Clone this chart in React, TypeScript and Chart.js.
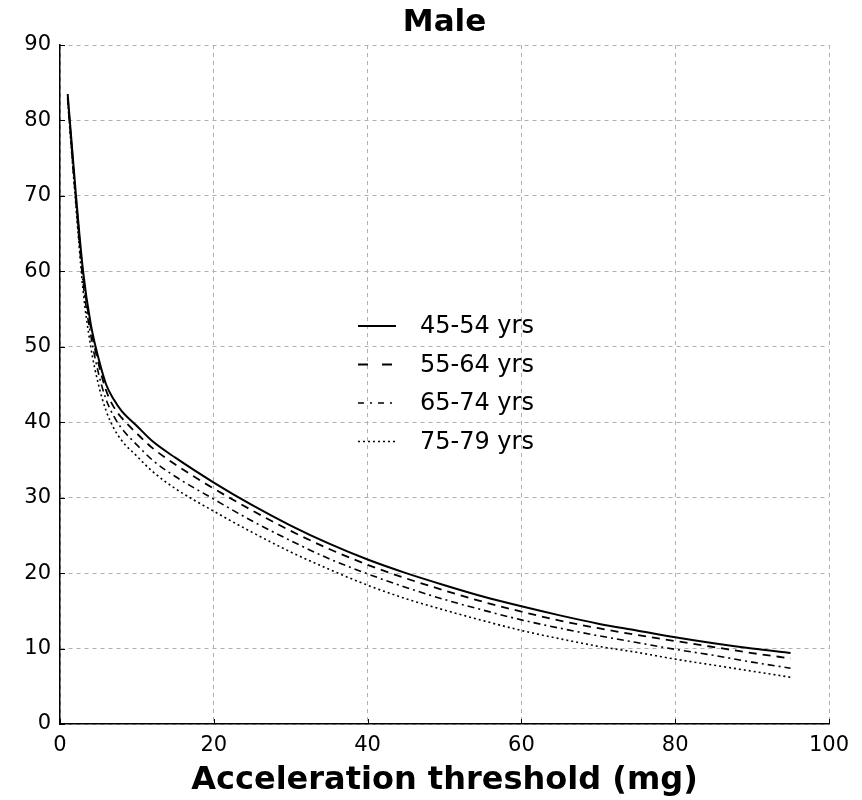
import React, { useEffect, useRef } from "react";
import { Chart, registerables } from "chart.js";

Chart.register(...registerables);

const thresholds = [1, 2, 3, 4, 5, 6, 7, 8, 10, 12, 15, 20, 25, 30, 35, 40, 45, 50, 55, 60, 65, 70, 75, 80, 85, 90, 95];
const age45_54 = [83.5, 71, 60, 53, 48.5, 45, 43, 41.5, 39.5, 37.5, 35.3, 32, 29, 26.3, 23.9, 21.8, 20, 18.4, 16.9, 15.6, 14.4, 13.3, 12.4, 11.5, 10.7, 10, 9.4];
const age55_64 = [83, 70.5, 59.5, 52.5, 47.8, 44.2, 42, 40.6, 38.5, 36.6, 34.4, 31.2, 28.3, 25.6, 23.2, 21.1, 19.3, 17.7, 16.2, 14.9, 13.7, 12.7, 11.8, 11.0, 10.2, 9.4, 8.7];
const age65_74 = [83, 70, 58.5, 51.5, 46.5, 43, 40.8, 39.2, 37, 35, 32.8, 29.8, 26.9, 24.3, 21.9, 19.9, 18.1, 16.5, 15.1, 13.8, 12.7, 11.7, 10.8, 9.9, 9.1, 8.2, 7.4];
const age75_79 = [82.5, 69.5, 57.5, 50, 45, 41.5, 39.2, 37.6, 35.5, 33.5, 31.2, 28.2, 25.4, 22.8, 20.5, 18.4, 16.6, 15.1, 13.7, 12.4, 11.3, 10.3, 9.5, 8.6, 7.8, 7, 6.2];
const seriesLabels = ["45-54 yrs", "55-64 yrs", "65-74 yrs", "75-79 yrs"];
const chartTitle = "Male";
const xTitle = "Acceleration threshold (mg)";

const dashes: number[][] = [[], [8, 6], [7, 4, 2, 4], [2, 3]];
const legendDashes: number[][] = [[], [10, 14], [6, 6, 2, 6], [2, 3]];
const widths = [2, 1.8, 1.6, 1.6];

const FONT = "'DejaVu Sans', sans-serif";

const overlayPlugin = {
  id: "overlay",
  afterDraw(chart: any) {
    const ctx = chart.ctx;
    const a = chart.chartArea;
    ctx.save();
    ctx.fillStyle = "#000";
    ctx.textAlign = "center";
    ctx.textBaseline = "middle";
    ctx.font = `bold 31px ${FONT}`;
    ctx.fillText(chartTitle, (a.left + a.right) / 2, 23);
    ctx.font = `bold 32px ${FONT}`;
    ctx.fillText(xTitle, (a.left + a.right) / 2, 781);

    // inward tick marks
    ctx.strokeStyle = "#000";
    ctx.lineWidth = 1;
    const xs = chart.scales.x;
    const ys = chart.scales.y;
    xs.ticks.forEach((t: any) => {
      const px = Math.round(xs.getPixelForValue(t.value)) + 0.5;
      ctx.beginPath();
      ctx.moveTo(px, a.bottom);
      ctx.lineTo(px, a.bottom - 5);
      ctx.stroke();
    });
    ys.ticks.forEach((t: any) => {
      const py = Math.round(ys.getPixelForValue(t.value)) + 0.5;
      ctx.beginPath();
      ctx.moveTo(a.left, py);
      ctx.lineTo(a.left + 5, py);
      ctx.stroke();
    });

    // legend
    const lx = 358;
    const ly0 = 326;
    const step = 38.5;
    ctx.font = `24px ${FONT}`;
    ctx.textAlign = "left";
    chart.data.datasets.forEach((ds: any, i: number) => {
      const y = ly0 + i * step;
      ctx.strokeStyle = "#000";
      ctx.lineWidth = ds.borderWidth;
      ctx.setLineDash(legendDashes[i]);
      ctx.beginPath();
      ctx.moveTo(lx, y);
      ctx.lineTo(lx + 38, y);
      ctx.stroke();
      ctx.setLineDash([]);
      ctx.fillStyle = "#000";
      ctx.fillText(ds.label, 420, y + 1);
    });
    ctx.restore();
  },
};

export default function App() {
  const ref = useRef<HTMLCanvasElement | null>(null);
  useEffect(() => {
    if (!ref.current) return;
    const all = [age45_54, age55_64, age65_74, age75_79];
    const chart = new Chart(ref.current, {
      type: "line",
      data: {
        datasets: all.map((vals, i) => ({
          label: seriesLabels[i],
          data: thresholds.map((x, j) => ({ x, y: vals[j] })),
          borderColor: "#000",
          borderWidth: widths[i],
          borderDash: dashes[i],
          pointRadius: 0,
          fill: false,
          cubicInterpolationMode: "monotone" as const,
        })),
      },
      options: {
        animation: false,
        responsive: false,
        maintainAspectRatio: false,
        layout: { padding: { top: 45, right: 33, left: 0, bottom: 0 } },
        plugins: { legend: { display: false }, tooltip: { enabled: false }, title: { display: false } },
        scales: {
          x: {
            type: "linear",
            min: 0,
            max: 100,
            ticks: { stepSize: 20, color: "#000", font: { family: FONT, size: 21 }, padding: 9 },
            grid: { color: "#b0b0b0", lineWidth: 1, drawTicks: false },
            border: { display: true, color: "#000", width: 1.5, dash: [4, 4] },
            afterFit: (s: any) => { s.height = 76; },
          } as any,
          y: {
            type: "linear",
            min: 0,
            max: 90,
            ticks: { stepSize: 10, color: "#000", font: { family: FONT, size: 21 }, padding: 9 },
            grid: { color: "#b0b0b0", lineWidth: 1, drawTicks: false },
            border: { display: true, color: "#000", width: 1.5, dash: [4, 4] },
            afterFit: (s: any) => { s.width = 60; },
          } as any,
        },
      },
      plugins: [overlayPlugin],
    });
    return () => chart.destroy();
  }, []);
  return (
    <div style={{ position: "fixed", left: 0, top: 0, width: 862, height: 800, background: "#fff" }}>
      <canvas ref={ref} width={862} height={800} style={{ width: 862, height: 800 }} />
    </div>
  );
}
